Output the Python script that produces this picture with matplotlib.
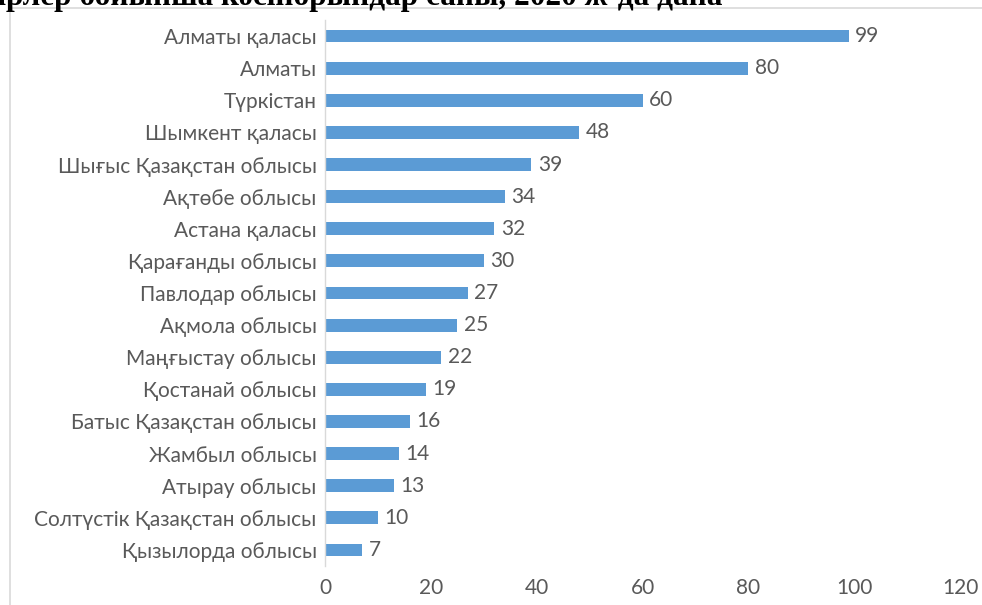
import matplotlib
matplotlib.use("Agg")
import matplotlib.pyplot as plt
from matplotlib.patches import Rectangle

categories = [
    "Алматы қаласы", "Алматы", "Түркістан", "Шымкент қаласы",
    "Шығыс Қазақстан облысы", "Ақтөбе облысы", "Астана қаласы",
    "Қарағанды облысы", "Павлодар облысы", "Ақмола облысы",
    "Маңғыстау облысы", "Қостанай облысы", "Батыс Қазақстан облысы",
    "Жамбыл облысы", "Атырау облысы", "Солтүстік Қазақстан облысы",
    "Қызылорда облысы",
]
values = [99, 80, 60, 48, 39, 34, 32, 30, 27, 25, 22, 19, 16, 14, 13, 10, 7]
xticks = [0, 20, 40, 60, 80, 100, 120]
title = "Өңірлер бойынша кәсіпорындар саны, 2020 ж-да дана"

text_color = "#595959"
bar_color = "#5B9BD5"
font = ["Lato", "DejaVu Sans"]
fs = 15

fig = plt.figure(figsize=(9.82, 6.05), dpi=100)
ax = fig.add_axes([325/982, 1-566/605, (960-325)/982, (566-20)/605])

ypos = list(range(len(categories)))[::-1]
ax.barh(ypos, values, height=0.4, color=bar_color)
for y, v in zip(ypos, values):
    ax.text(v + 1.2, y, str(v), va="center", ha="left", fontsize=fs,
            color=text_color, family=font)

ax.set_xlim(0, 120)
ax.set_ylim(-0.5, len(categories) - 0.5)
ax.set_yticks(ypos)
ax.set_yticklabels(categories, fontsize=fs, color=text_color, family=font)
ax.set_xticks(xticks)
ax.set_xticklabels([str(t) for t in xticks], fontsize=fs, color=text_color, family=font)
ax.tick_params(axis="both", length=0)
ax.tick_params(axis="y", pad=6)
ax.tick_params(axis="x", pad=9)
for s in ["top", "right", "bottom"]:
    ax.spines[s].set_visible(False)
ax.spines["left"].set_color("#D9D9D9")
ax.spines["left"].set_linewidth(1)

# chart frame
fig.patches.append(Rectangle((10/982, -0.1), 1.2, 1 - 8/605 + 0.1,
                             transform=fig.transFigure, fill=False,
                             edgecolor="#D9D9D9", linewidth=1.2))

# title, cut off at the top edge as in the source image
fig.text(722/982, 1 - 5/605, title, ha="right", va="baseline",
         fontsize=22.5, fontweight="bold", family=["Liberation Serif", "DejaVu Serif"],
         color="black")

fig.savefig("out.png", dpi=100)
